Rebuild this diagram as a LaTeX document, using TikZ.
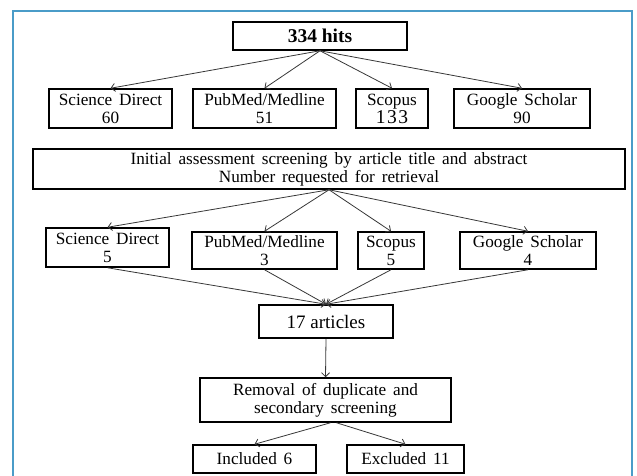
\documentclass[tikz,border=0pt]{standalone}
\usepackage{fontspec}
\setmainfont{Liberation Serif}
\usetikzlibrary{arrows.meta,calc}
\definecolor{framec}{RGB}{74,156,200}
\definecolor{arrc}{RGB}{55,55,55}
\newcommand{\bigno}[1]{{\fontsize{19.5}{18}\selectfont #1}}
\begin{document}
\begin{tikzpicture}[x=1pt,y=-1pt,
  boxn/.style={draw=black,line width=1.5pt,inner sep=0pt,align=center,
    font={\fontsize{17.2}{18}\selectfont\spaceskip=0.4em plus 0.1em}},
  conn/.style={draw=arrc,line width=0.8pt,-{Straight Barb[length=4pt,width=8pt]}}]
\useasboundingbox (0,0) rectangle (637,475);
\draw[framec,line width=2pt] (13,477) -- (13,11) -- (632,11) -- (632,477);
% top
\node[boxn,minimum width=174pt,minimum height=28pt,font={\fontsize{19.5}{20}\selectfont\bfseries}] (hits) at (320,36) {334 hits};
% row 1
\node[boxn,minimum width=123pt,minimum height=39pt] (sd1) at (110.5,108.5) {Science Direct\\60};
\node[boxn,minimum width=143pt,minimum height=39pt] (pm1) at (264.5,108.5) {PubMed/Medline\\51};
\node[boxn,minimum width=72pt,minimum height=39pt] (sc1) at (392,108.5) {Scopus\\\bigno{1\kern1.5pt3\kern1.5pt3}};
\node[boxn,minimum width=136pt,minimum height=39pt] (gs1) at (522,108.5) {Google Scholar\\90};
% initial
\node[boxn,minimum width=592pt,minimum height=40pt] (init) at (329,169) {Initial assessment screening by article title and abstract\\Number requested for retrieval};
% row 2
\node[boxn,minimum width=123pt,minimum height=39pt] (sd2) at (107.5,247.5) {Science Direct\\5};
\node[boxn,minimum width=145pt,minimum height=37pt] (pm2) at (264.5,250.5) {PubMed/Medline\\3};
\node[boxn,minimum width=66pt,minimum height=37pt] (sc2) at (391,250.5) {Scopus\\5};
\node[boxn,minimum width=136pt,minimum height=37pt] (gs2) at (528,250.5) {Google Scholar\\4};
% lower
\node[boxn,minimum width=134pt,minimum height=33pt,font={\fontsize{19}{20}\selectfont}] (art) at (326,321.5) {17 articles};
\node[boxn,minimum width=251pt,minimum height=44pt] (rem) at (325.5,400) {Removal of duplicate and\\secondary screening};
\node[boxn,minimum width=123pt,minimum height=28pt] (inc) at (254.5,459) {Included 6};
\node[boxn,minimum width=117pt,minimum height=28pt] (exc) at (405.5,459) {Excluded 11};
% connectors
\foreach \t in {sd1,pm1,sc1,gs1} \draw[conn] (hits.south) -- (\t.north);
\foreach \t in {sd2,pm2,sc2,gs2} \draw[conn] (init.south) -- (\t.north);
\foreach \s in {sd2,pm2,sc2,gs2} \draw[conn] (\s.south) -- (art.north);
\draw[conn] (art.south) -- (rem.north);
\draw[conn] ([xshift=5pt]rem.south) -- (inc.north);
\draw[conn] ([xshift=11pt]rem.south) -- (exc.north);
\end{tikzpicture}
\end{document}
